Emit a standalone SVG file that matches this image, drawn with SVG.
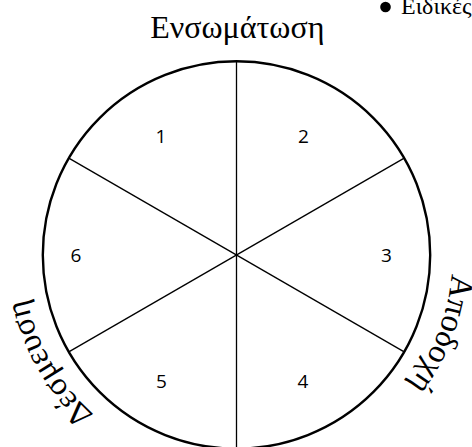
<svg xmlns="http://www.w3.org/2000/svg" width="472" height="447" viewBox="0 0 472 447">
  <style>
    .serif { font-family: "Liberation Serif", "DejaVu Serif", serif; fill: #000; }
    .num { font-family: "Open Sans", "Noto Sans", sans-serif; font-size: 19px; fill: #000; text-anchor: middle; }
    .spoke { stroke: #000; stroke-width: 1.3; fill: none; }
  </style>
  <defs>
    <path id="arcRight" d="M 404.4 119.1 A 216 216 0 0 1 270.3 468.3" fill="none"/>
    <path id="arcLeft" d="M 236.5 469 A 214 214 0 0 1 51.2 148" fill="none"/>
  </defs>
  <rect width="472" height="447" fill="#fff"/>
  <g id="bullet-note">
    <circle cx="385.5" cy="7" r="5.3" fill="#000"/>
    <text class="serif" x="401" y="13.5" font-size="24">Ειδικές</text>
  </g>
  <g id="title">
    <text class="serif" x="237.3" y="38" font-size="32" text-anchor="middle">Ενσωμάτωση</text>
  </g>
  <g id="connectors">
    <line class="spoke" x1="236.5" y1="61.3" x2="236.5" y2="448.7"/>
    <line class="spoke" x1="68.8" y1="158.15" x2="404.2" y2="351.85"/>
    <line class="spoke" x1="68.8" y1="351.85" x2="404.2" y2="158.15"/>
  </g>
  <g id="circle">
    <circle cx="236.5" cy="255" r="193.7" fill="none" stroke="#000" stroke-width="2.4"/>
  </g>
  <g id="sector-1"><text class="num" x="161" y="143">1</text></g>
  <g id="sector-2"><text class="num" x="303.5" y="143">2</text></g>
  <g id="sector-3"><text class="num" x="386.5" y="262">3</text></g>
  <g id="sector-4"><text class="num" x="303" y="388">4</text></g>
  <g id="sector-5"><text class="num" x="161.5" y="388">5</text></g>
  <g id="sector-6"><text class="num" x="76" y="262">6</text></g>
  <g id="label-right">
    <text class="serif" font-size="33"><textPath href="#arcRight" startOffset="50%" text-anchor="middle">Αποδοχή</textPath></text>
  </g>
  <g id="label-left">
    <text class="serif" font-size="33"><textPath href="#arcLeft" startOffset="50%" text-anchor="middle">Δέσμευση</textPath></text>
  </g>
</svg>
